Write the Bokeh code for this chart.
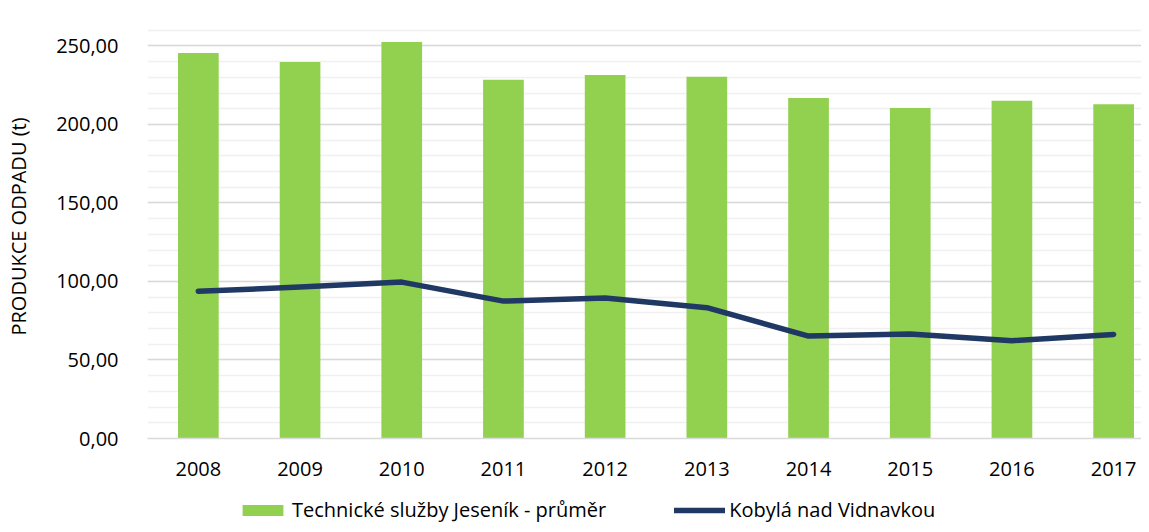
from bokeh.plotting import figure
from bokeh.layouts import column
from bokeh.models import ColumnDataSource, FixedTicker, SingleIntervalTicker, Range1d, Legend, LegendItem, CustomJSTickFormatter
from bokeh.embed import file_html
from bokeh.resources import INLINE

years = ["2008", "2009", "2010", "2011", "2012", "2013", "2014", "2015", "2016", "2017"]
technicke = [245.5, 239.8, 252.5, 228.4, 231.5, 230.3, 216.9, 210.4, 215.0, 212.9]
kobyla = [93.8, 96.4, 99.6, 87.5, 89.4, 83.3, 65.2, 66.6, 62.3, 66.3]
series_names = ["Technické služby Jeseník - průměr", "Kobylá nad Vidnavkou"]

FONT = "Open Sans"
FS = "20px"
GREEN = "#92d050"
NAVY = "#203864"

idx = list(range(len(years)))
src = ColumnDataSource(dict(x=idx, bar=technicke, line=kobyla))

p = figure(width=1141, height=484, output_backend="svg", toolbar_location=None,
           x_range=Range1d(-0.5, 9.274), y_range=Range1d(0, 270),
           min_border_left=147, min_border_right=0, min_border_top=14, min_border_bottom=46)
p.outline_line_color = None

bars = p.vbar(x="x", top="bar", width=0.4, source=src, fill_color=GREEN, line_color=None)
ln = p.line(x="x", y="line", source=src, line_color=NAVY, line_width=5.5,
            line_cap="round", line_join="round")

p.xaxis.ticker = FixedTicker(ticks=idx)
p.xaxis.major_label_overrides = {i: y for i, y in zip(idx, years)}
p.xaxis.major_tick_line_color = None
p.xaxis.minor_tick_line_color = None
p.xaxis.axis_line_color = "#d9d9d9"
p.xaxis.axis_line_width = 1.5
p.xaxis.major_label_standoff = 17
p.xaxis.major_label_text_font = FONT
p.xaxis.major_label_text_font_size = FS
p.xaxis.major_label_text_color = "black"

p.yaxis.ticker = SingleIntervalTicker(interval=50, num_minor_ticks=5)
p.yaxis.formatter = CustomJSTickFormatter(code="return tick.toFixed(2).replace('.', ',');")
p.yaxis.major_tick_line_color = None
p.yaxis.minor_tick_line_color = None
p.yaxis.axis_line_color = None
p.yaxis.major_label_standoff = 23
p.yaxis.major_label_text_font = FONT
p.yaxis.major_label_text_font_size = FS
p.yaxis.major_label_text_color = "black"
p.yaxis.axis_label = "PRODUKCE ODPADU (t)"
p.yaxis.axis_label_text_font = FONT
p.yaxis.axis_label_text_font_size = FS
p.yaxis.axis_label_text_font_style = "normal"
p.yaxis.axis_label_text_color = "black"
p.yaxis.axis_label_standoff = 21

p.xgrid.grid_line_color = None
p.ygrid.grid_line_color = "#d9d9d9"
p.ygrid.grid_line_width = 1.5
p.ygrid.minor_grid_line_color = "#f0f0f0"
p.ygrid.minor_grid_line_width = 1.5
p.ygrid.level = "underlay"

# legend strip below the chart (its series renderers sit outside its visible y range)
q = figure(width=1141, height=40, output_backend="svg", toolbar_location=None,
           x_axis_type=None, y_axis_type=None, x_range=Range1d(-0.5, 9.274), y_range=Range1d(1000, 1001),
           min_border_left=147, min_border_right=0, min_border_top=0, min_border_bottom=0)
q.outline_line_color = None
q.xgrid.grid_line_color = None
q.ygrid.grid_line_color = None
lb = q.vbar(x="x", top="bar", width=0.4, source=src, fill_color=GREEN, line_color=None)
ll = q.line(x="x", y="line", source=src, line_color=NAVY, line_width=5.5, line_cap="round")

legend = Legend(items=[LegendItem(label=series_names[0], renderers=[lb]),
                       LegendItem(label=series_names[1], renderers=[ll])],
                location=(90, 1), orientation="horizontal",
                glyph_width=51, glyph_height=14, label_standoff=4, spacing=68,
                padding=0, margin=0, border_line_color=None, background_fill_alpha=0,
                label_text_font=FONT, label_text_font_size=FS, label_text_color="black")
q.add_layout(legend)

open("out.html", "w").write(file_html(column(p, q, spacing=0), INLINE))
